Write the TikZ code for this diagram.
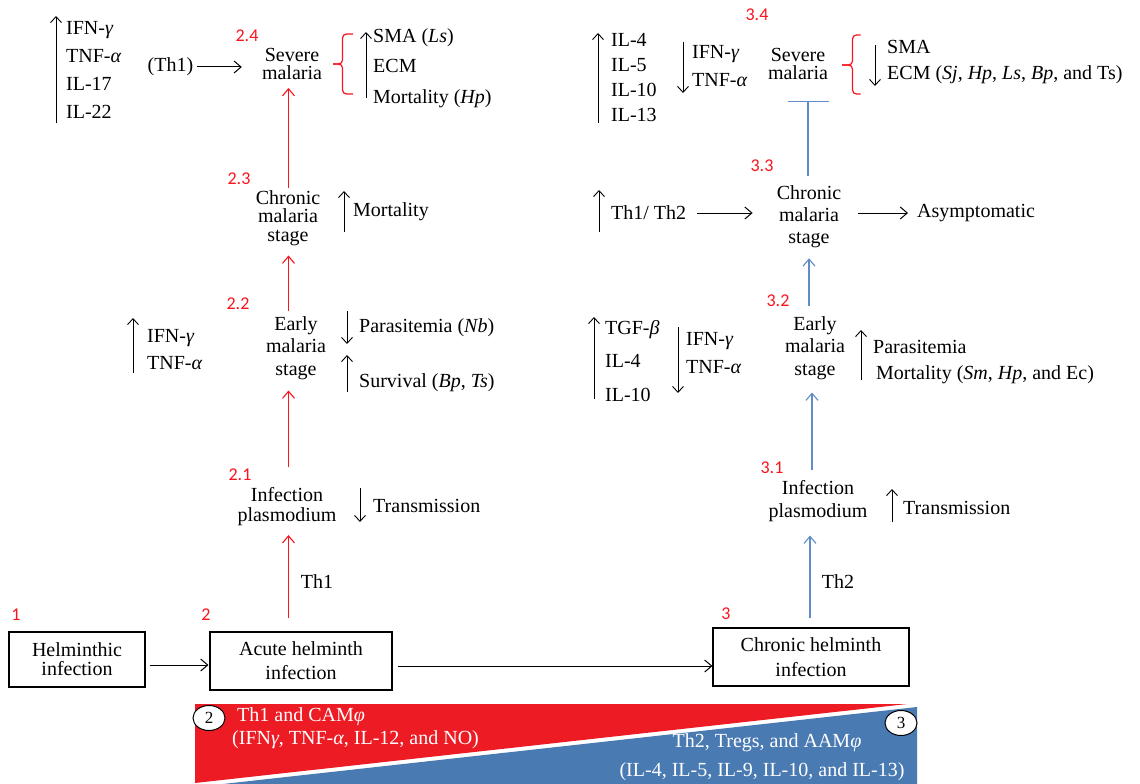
\documentclass[tikz,border=0pt]{standalone}
\usepackage{fontspec}
\setmainfont{Liberation Serif}
\newfontfamily\numfont{Carlito}
\usetikzlibrary{arrows.meta,shapes.geometric}
\definecolor{bred}{RGB}{237,28,36}
\definecolor{lred}{RGB}{250,20,30}
\definecolor{bblue}{RGB}{74,122,178}
\definecolor{lblue}{RGB}{96,140,200}
\tikzset{
  fs/.style={font=\fontsize{20}{#1}\selectfont},
  txt/.style={inner sep=0pt, align=center, fs=22},
  lst/.style={inner sep=0pt, anchor=west, align=left, fs=22},
  num/.style={inner sep=0pt, text=lred, font=\numfont\fontsize{18}{20}\selectfont},
  box/.style={draw, line width=1.1pt, inner sep=0pt, align=center},
  wtxt/.style={inner sep=0pt, text=white, font=\fontsize{20}{22}\selectfont},
  circ/.style={draw, ellipse, fill=white, line width=1pt, inner sep=0pt,
    minimum width=32pt, minimum height=25pt, font=\fontsize{17}{20}\selectfont},
  arr/.style={line width=1pt, -{Straight Barb[length=7pt,width=12pt]}},
  carr/.style={line width=1.4pt, -{Straight Barb[length=7pt,width=12pt,line width=1.1pt]}},
  uarr/.style={line width=0.9pt, -{Straight Barb[length=6pt,width=11pt]}},
  brk/.style={draw=lred, line width=1.2pt, rounded corners=4pt},
}
\begin{document}
\begin{tikzpicture}[x=1pt,y=-1pt]
\fill[white] (0,0) rectangle (1140,784);
\useasboundingbox (0,0) rectangle (1140,784);

% ---------- banner ----------
\fill[bred] (195,704) -- (907,704) -- (195,783) -- cycle;
\fill[bblue] (223,784) -- (917,707) -- (917,784) -- cycle;
\node[circ] (c2) at (209,718) {2};
\node[circ] (c3) at (901,723) {3};
\node[wtxt,anchor=west] (b1) at (237,717) {Th1 and CAM\textit{φ}};
\node[wtxt,anchor=west] (b2) at (232,740) {(IFN\textit{γ}, TNF-\textit{α}, IL-12, and NO)};
\node[wtxt] (b3) at (767,743) {Th2, Tregs, and AAM\textit{φ}};
\node[wtxt] (b4) at (762,772) {(IL-4, IL-5, IL-9, IL-10, and IL-13)};

% ---------- boxes ----------
\node[box,fs=19,minimum width=136pt,minimum height=55pt] (helm) at (77,659.5) {Helminthic\\infection};
\node[box,fs=24,minimum width=182pt,minimum height=58pt] (acute) at (301,661) {Acute helminth\\infection};
\node[box,fs=25,minimum width=196pt,minimum height=58pt] (chb) at (811,657) {Chronic helminth\\infection};

\draw[arr,shorten <=4pt,shorten >=1pt] ([yshift=-5.5pt]helm.east) -- ([yshift=-5.5pt]helm.east -| acute.west);
\draw[arr,shorten <=5pt] ([yshift=-5pt]acute.east) -- ([yshift=-5pt]acute.east -| chb.west);

% ---------- red numbers ----------
\node[num] (n1) at (16,615) {1};
\node[num] (n2) at (206,615) {2};
\node[num] (n3) at (726,614) {3};
\node[num] (n21) at (240,475) {2.1};
\node[num] (n22) at (238,304) {2.2};
\node[num] (n23) at (239,179) {2.3};
\node[num] (n24) at (247,36) {2.4};
\node[num] (n31) at (772,468) {3.1};
\node[num] (n32) at (778,301) {3.2};
\node[num] (n33) at (762,166) {3.3};
\node[num] (n34) at (757,15) {3.4};

% ---------- left column ----------
\node[txt,fs=18] (sevL) at (292,64.3) {Severe\\malaria};
\node[txt,fs=18.5] (chrL) at (288,218) {Chronic\\malaria\\stage};
\node[txt,fs=22.5] (earL) at (296,348) {Early\\malaria\\stage};
\node[txt,fs=20] (infL) at (287,507) {Infection\\plasmodium};
\node[txt] (th1b) at (317,582) {Th1};

\draw[carr,lred,shorten <=13pt,shorten >=8.7pt] ([xshift=1.5pt]infL.south |- acute.north) -- ([xshift=1.5pt]infL.south);
\draw[carr,lred,shorten <=20.3pt,shorten >=10.7pt] ([xshift=1.5pt]infL.north) -- ([xshift=1.5pt]infL.north |- earL.south);
\draw[carr,lred,shorten <=5.3pt,shorten >=9.7pt] ([xshift=-7.5pt]earL.north) -- ([xshift=-7.5pt]earL.north |- chrL.south);
\draw[carr,lred,shorten <=2.3pt,shorten >=7.8pt] ([xshift=0.5pt]chrL.north) -- ([xshift=0.5pt]chrL.north |- sevL.south);

\node[lst,fs=28.3] (L1) at (66,70) {IFN-\textit{γ}\\TNF-\textit{α}\\IL-17\\IL-22};
\draw[uarr] (56,123) -- (56,16);
\node[txt] (th1) at (170.5,67) {(Th1)};
\draw[arr,shorten <=4pt,shorten >=20pt] (th1.east) -- (th1.east -| sevL.west);
\draw[brk] (353,34) -- (342.5,34) -- (342.5,64) -- (333,64);
\draw[brk] (333,64) -- (342.5,64) -- (342.5,94) -- (353,94);
\node[lst,fs=30.5] (R1) at (373,68) {SMA (\textit{Ls})\\ECM\\Mortality (\textit{Hp})};
\draw[uarr] (366,98) -- (366,32);

\node[lst] (mortL) at (353,212) {Mortality};
\draw[uarr] (344,232) -- (344,191);
\node[lst] (parL) at (359,328) {Parasitemia (\textit{Nb})};
\draw[uarr] (347,311) -- (347,344);
\node[lst] (survL) at (359,383) {Survival (\textit{Bp}, \textit{Ts})};
\draw[uarr] (347,392) -- (347,355);
\node[lst,fs=27] (L2) at (147,350) {IFN-\textit{γ}\\TNF-\textit{α}};
\draw[uarr] (133,373) -- (133,318);
\node[lst] (trL) at (373,506) {Transmission};
\draw[uarr] (360,488) -- (360,522);

% ---------- right column ----------
\node[txt,fs=18] (sevR) at (798,64.3) {Severe\\malaria};
\node[txt,fs=22] (chrR) at (809,216.3) {Chronic\\malaria\\stage};
\node[txt,fs=22.5] (earR) at (815,348) {Early\\malaria\\stage};
\node[txt,fs=23] (infR) at (818,501) {Infection\\plasmodium};
\node[txt] (th2) at (838,582) {Th2};

\draw[carr,lblue,shorten <=9pt,shorten >=13.7pt] ([xshift=-8pt]infR.south |- chb.north) -- ([xshift=-8pt]infR.south);
\draw[carr,lblue,shorten <=10.3pt,shorten >=12.7pt] ([xshift=-6pt]infR.north) -- ([xshift=-6pt]infR.north |- earR.south);
\draw[carr,lblue,shorten <=10.3pt,shorten >=10.7pt] ([xshift=-6pt]earR.north) -- ([xshift=-6pt]earR.north |- chrR.south);
\draw[lblue,line width=1.3pt,shorten <=9.3pt,shorten >=20.8pt,-{Bar[width=41pt,line width=1.1pt]}] ([xshift=-1pt]chrR.north) -- ([xshift=-1pt]chrR.north |- sevR.south);

\node[lst,fs=25] (L3) at (611,78) {IL-4\\IL-5\\IL-10\\IL-13};
\draw[uarr] (598,123) -- (598,33);
\node[lst,fs=28] (L4) at (692,66.5) {IFN-\textit{γ}\\TNF-\textit{α}};
\draw[uarr] (683,42) -- (683,93);
\draw[brk] (860.5,35) -- (852.5,35) -- (852.5,65) -- (842,65);
\draw[brk] (842,65) -- (852.5,65) -- (852.5,94) -- (860.5,94);
\node[lst,fs=26] (R3) at (887,62.5) {SMA\\ECM (\textit{Sj}, \textit{Hp}, \textit{Ls}, \textit{Bp}, and Ts)};
\draw[uarr] (875,45) -- (875,86);

\node[lst] (thth) at (611,213) {Th1/ Th2};
\draw[uarr] (599,232) -- (599,190);
\node[lst] (asym) at (917,213) {Asymptomatic};
\draw[arr,shorten <=11pt,shorten >=24pt] (thth.east) -- (thth.east -| chrR.west);
\draw[arr,shorten <=17pt,shorten >=9pt] (chrR.east |- asym.west) -- (asym.west);

\node[lst] (parR) at (873,347) {Parasitemia};
\node[lst] (mortR) at (876,375) {Mortality (\textit{Sm}, \textit{Hp}, and Ec)};
\draw[uarr] (861,380) -- (861,330);
\node[lst,fs=33.5] (L5) at (605,361) {TGF-\textit{β}\\IL-4\\IL-10};
\draw[uarr] (594,399) -- (594,317);
\node[lst,fs=28] (L6) at (686,353.5) {IFN-\textit{γ}\\TNF-\textit{α}};
\draw[uarr] (678,327) -- (678,393);
\node[lst] (trR) at (903,508) {Transmission};
\draw[uarr] (892,522) -- (892,489);
\end{tikzpicture}
\end{document}
